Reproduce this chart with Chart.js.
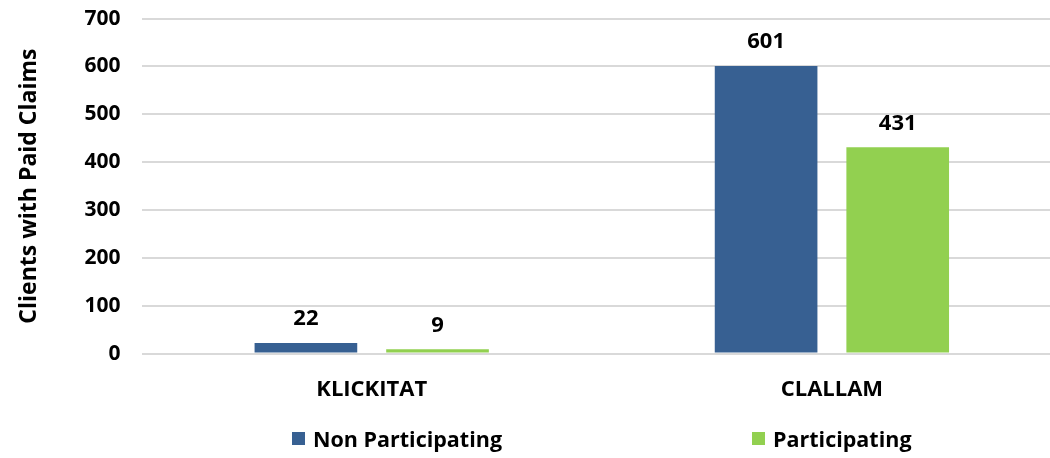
<!DOCTYPE html>
<html>
<head>
<meta charset="utf-8">
<script src="https://cdn.jsdelivr.net/npm/chart.js@4.4.1/dist/chart.umd.min.js"></script>
<style>
  html, body { margin: 0; padding: 0; background: #fff; }
  #wrap { position: relative; width: 1050px; height: 458px; overflow: hidden; }
  #legend { position: absolute; left: 0; top: 424px; width: 1050px; height: 30px;
            font: bold 21.5px "Open Sans", sans-serif; color: #000; }
  .item { position: absolute; top: 0; display: flex; align-items: center; }
  .box { width: 13px; height: 13px; margin-right: 8px; }
</style>
</head>
<body>
<div id="wrap">
  <canvas id="barChart" width="1062" height="458"></canvas>
  <div id="legend"></div>
</div>
<script>
const counties = ["KLICKITAT", "CLALLAM"];
const nonParticipating = [22, 601];
const participating = [9, 431];
const yTicks = [0, 100, 200, 300, 400, 500, 600, 700];

const blue = "#376092";
const green = "#92D050";
const font = "Open Sans";

// value labels above each bar
const valueLabels = {
  id: "valueLabels",
  afterDatasetsDraw(chart) {
    const ctx = chart.ctx;
    ctx.save();
    ctx.font = "bold 22px '" + font + "'";
    ctx.fillStyle = "#000";
    ctx.textAlign = "center";
    ctx.textBaseline = "bottom";
    chart.data.datasets.forEach((ds, i) => {
      chart.getDatasetMeta(i).data.forEach((bar, j) => {
        ctx.fillText(ds.data[j], bar.x, bar.y - 13);
      });
    });
    ctx.restore();
  }
};

var ctx = document.getElementById('barChart').getContext('2d');
var myChart = new Chart(ctx, {
  type: 'bar',
  data: {
    labels: counties,
    datasets: [
      { label: "Non Participating", data: nonParticipating, backgroundColor: blue },
      { label: "Participating", data: participating, backgroundColor: green }
    ]
  },
  options: {
    responsive: false,
    animation: false,
    layout: { padding: { top: 0, right: 0, bottom: 32, left: 16 } },
    datasets: { bar: { barPercentage: 0.78, categoryPercentage: 0.572 } },
    plugins: {
      legend: { display: false },
      tooltip: { enabled: false }
    },
    scales: {
      x: {
        grid: { display: false, drawTicks: false },
        border: { display: false },
        ticks: { color: "#000", font: { family: font, size: 22, weight: "bold" }, padding: 23 }
      },
      y: {
        min: 0,
        max: 700,
        afterBuildTicks(axis) { axis.ticks = yTicks.map(v => ({ value: v })); },
        grid: { color: "#d9d9d9", lineWidth: 2, tickLength: 15, tickColor: "rgba(0,0,0,0)" },
        border: { display: false },
        ticks: { color: "#000", font: { family: font, size: 21, weight: "bold" }, padding: 6 },
        title: {
          display: true,
          text: "Clients with Paid Claims",
          color: "#000",
          font: { family: font, size: 23, weight: "bold" },
          padding: { top: 0, bottom: 35 }
        }
      }
    }
  },
  plugins: [valueLabels]
});

// legend row under the plot
const legendItems = [
  { text: "Non Participating", color: blue, left: 292 },
  { text: "Participating", color: green, left: 752 }
];
const legend = document.getElementById("legend");
legendItems.forEach(it => {
  const el = document.createElement("div");
  el.className = "item";
  el.style.left = it.left + "px";
  el.innerHTML = '<span class="box" style="background:' + it.color + '"></span><span>' + it.text + '</span>';
  legend.appendChild(el);
});
</script>
</body>
</html>
